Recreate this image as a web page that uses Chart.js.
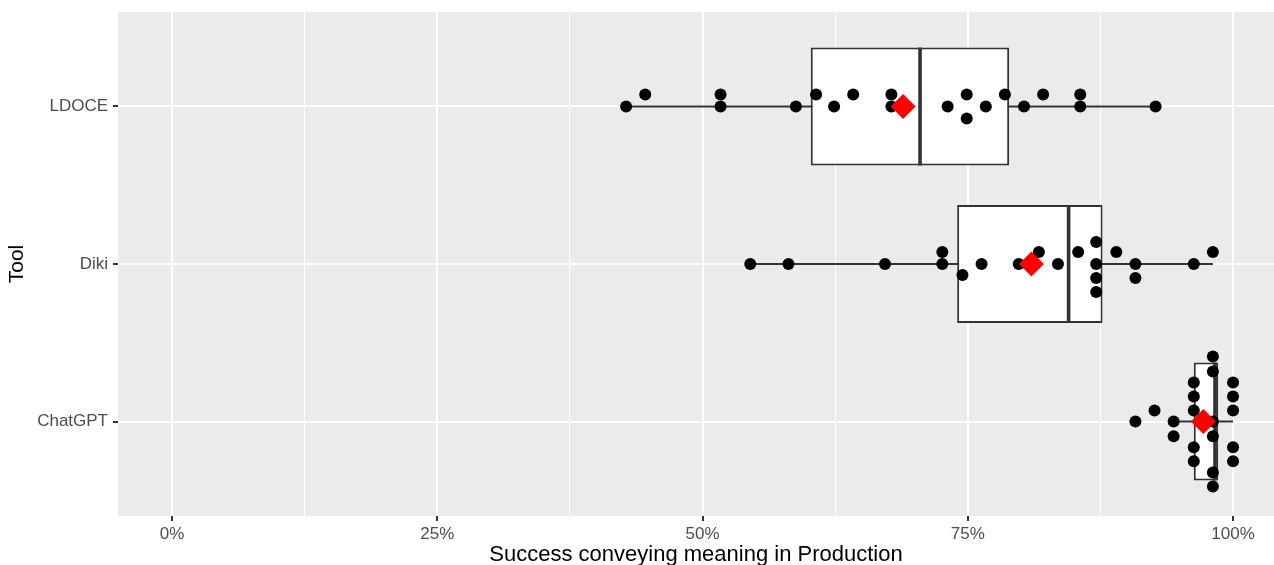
<!DOCTYPE html>
<html>
<head>
<meta charset="utf-8">
<script src="https://cdn.jsdelivr.net/npm/chart.js@4.4.1/dist/chart.umd.min.js"></script>
<style>
	html, body { margin: 0; padding: 0; background: #fff; overflow: hidden; }
	#wrap { width: 1274px; height: 580px; }
</style>
</head>
<body>
<div id="wrap"><canvas id="chart"></canvas></div>
<script>
const tools = ['LDOCE', 'Diki', 'ChatGPT'];
const xTickValues = [0, 12.5, 25, 37.5, 50, 62.5, 75, 87.5, 100];
const xTickLabels = ['0%', '', '25%', '', '50%', '', '75%', '', '100%'];

// boxplot stats per tool (percent)
const whiskerLow = [42.8, 54.5, 94.4];
const q1 = [60.2, 74.0, 96.3];
const median = [70.5, 84.5, 98.3];
const q3 = [78.9, 87.7, 98.6];
const whiskerHigh = [92.7, 98.1, 100];
const means = [68.9, 81.0, 97.2];

// dot plot: score and stack offset (in tool-axis units, negative = up)
const ldoceScores = [42.8, 44.6, 51.7, 51.7, 58.8, 60.7, 62.4, 64.2, 67.8, 67.8, 73.1, 74.9, 74.9, 76.7, 78.5, 80.3, 82.1, 85.6, 85.6, 92.7];
const ldoceStack  = [0, -0.076, -0.076, 0, 0, -0.076, 0, -0.076, -0.076, 0, 0, -0.076, 0.076, 0, -0.076, 0, -0.076, -0.076, 0, 0];
const dikiScores = [54.5, 58.1, 67.2, 72.6, 72.6, 74.5, 76.3, 79.8, 81.7, 83.5, 85.4, 87.1, 87.1, 87.1, 87.1, 89.0, 90.8, 90.8, 96.3, 98.1];
const dikiStack  = [0, 0, 0, -0.076, 0, 0.07, 0, 0, -0.076, 0, -0.076, -0.14, 0, 0.089, 0.178, -0.076, 0, 0.089, 0, -0.076];
const chatgptScores = [90.8, 92.6, 94.4, 94.4, 96.3, 96.3, 96.3, 96.3, 96.3, 98.1, 98.1, 98.1, 98.1, 98.1, 98.1, 100, 100, 100, 100, 100];
const chatgptStack  = [0, -0.07, 0, 0.093, -0.248, -0.159, -0.07, 0.163, 0.252, -0.413, -0.318, 0, 0.093, 0.324, 0.413, -0.248, -0.159, -0.07, 0.163, 0.252];

const boxHalf = 0.375;

Chart.defaults.font.family = '"Liberation Sans", Arial, sans-serif';

const dots = [];
[[ldoceScores, ldoceStack], [dikiScores, dikiStack], [chatgptScores, chatgptStack]].forEach(([scores, stack], i) => {
	scores.forEach((v, j) => dots.push({x: v, y: i + stack[j]}));
});

const panelBg = {
	id: 'panelBg',
	beforeDraw(chart) {
		const {ctx, chartArea: a} = chart;
		ctx.save();
		ctx.fillStyle = '#EBEBEB';
		ctx.fillRect(a.left, a.top, a.right - a.left, a.bottom - a.top);
		ctx.restore();
	}
};

const datasets = [];

tools.forEach((t, i) => {
	datasets.push({
		type: 'line',
		data: [{x: whiskerLow[i], y: i}, {x: whiskerHigh[i], y: i}],
		borderColor: '#333333',
		borderWidth: 1.8,
		pointRadius: 0,
		showLine: true,
		order: 4
	});
	datasets.push({
		type: 'line',
		data: [{x: median[i], y: i - boxHalf}, {x: median[i], y: i + boxHalf}],
		borderColor: '#333333',
		borderWidth: 3.6,
		pointRadius: 0,
		showLine: true,
		order: 2
	});
});

datasets.push({
	type: 'bar',
	indexAxis: 'y',
	data: tools.map((t, i) => ({x: [q1[i], q3[i]], y: i})),
	backgroundColor: '#ffffff',
	borderColor: '#333333',
	borderWidth: 2,
	borderSkipped: false,
	barPercentage: boxHalf * 2,
	categoryPercentage: 1,
	order: 3
});

datasets.push({
	type: 'scatter',
	data: dots,
	backgroundColor: '#000000',
	borderWidth: 0,
	pointRadius: 6,
	order: 1
});

datasets.push({
	type: 'scatter',
	data: means.map((m, i) => ({x: m, y: i})),
	backgroundColor: '#FF0000',
	borderWidth: 0,
	pointStyle: 'rectRot',
	pointRadius: 12.5,
	order: 0
});

new Chart(document.getElementById('chart'), {
	type: 'scatter',
	data: {datasets},
	plugins: [panelBg],
	options: {
		responsive: true,
		maintainAspectRatio: false,
		animation: false,
		layout: {autoPadding: false, padding: {top: 12, left: 0, right: 0, bottom: 0}},
		plugins: {
			legend: {display: false},
			tooltip: {enabled: false}
		},
		scales: {
			x: {
				type: 'linear',
				min: -5.09,
				max: 103.86,
				offset: false,
				afterBuildTicks: s => { s.ticks = xTickValues.map(v => ({value: v})); },
				afterFit: s => {
					s.height = 64;
					s.paddingLeft = 0;
					s.paddingRight = 0;
				},
				ticks: {
					callback: (v, i) => xTickLabels[i],
					color: '#4D4D4D',
					font: {size: 17},
					padding: 3,
					maxRotation: 0,
					autoSkip: false
				},
				grid: {
					offset: false,
					color: '#ffffff',
					lineWidth: c => (c.tick && c.tick.value % 25 === 0) ? 2 : 1,
					tickColor: c => (c.tick && c.tick.value % 25 === 0) ? '#333333' : 'rgba(0,0,0,0)',
					tickLength: 5,
					tickWidth: 2
				},
				border: {display: false},
				title: {
					display: true,
					text: 'Success conveying meaning in Production',
					color: '#000000',
					font: {size: 22},
					padding: {top: 0, bottom: 12}
				}
			},
			y: {
				type: 'linear',
				reverse: true,
				min: -0.6,
				max: 2.6,
				offset: false,
				afterBuildTicks: s => { s.ticks = tools.map((t, i) => ({value: i})); },
				afterFit: s => {
					s.width = 118;
					s.paddingTop = 0;
					s.paddingBottom = 0;
				},
				ticks: {
					callback: (v, i) => tools[i],
					color: '#4D4D4D',
					font: {size: 17},
					padding: 5
				},
				grid: {
					offset: false,
					color: '#ffffff',
					lineWidth: 2,
					tickColor: '#333333',
					tickLength: 5,
					tickWidth: 2
				},
				border: {display: false},
				title: {
					display: true,
					text: 'Tool',
					color: '#000000',
					font: {size: 21},
					padding: {top: 5, bottom: 0}
				}
			}
		}
	}
});
</script>
</body>
</html>
